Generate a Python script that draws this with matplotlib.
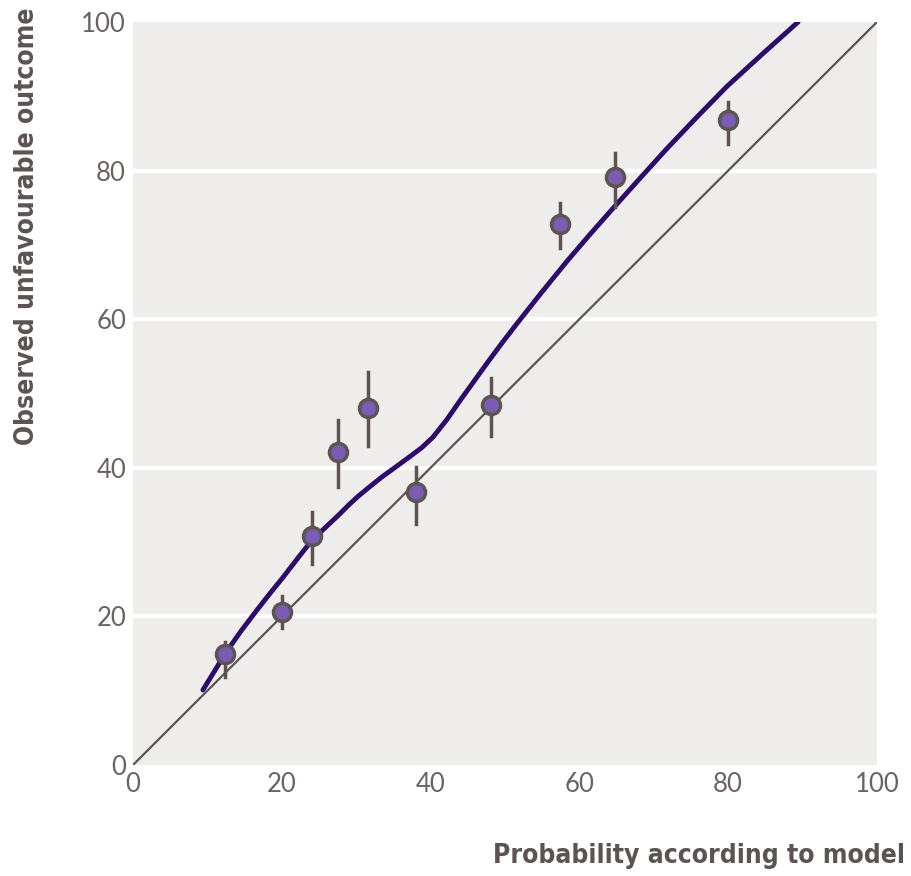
import matplotlib.pyplot as plt

# observed groups (x = predicted %, y = observed %, with CI)
obs_x = [12.4, 20.0, 24.1, 27.6, 31.6, 38.0, 48.1, 57.4, 64.8, 80.0]
obs_y = [14.9, 20.6, 30.8, 42.1, 48.0, 36.7, 48.5, 72.8, 79.1, 86.8]
ci_lo = [11.8, 18.4, 27.0, 37.4, 42.9, 32.4, 44.3, 69.6, 75.1, 83.6]
ci_hi = [16.5, 22.7, 34.0, 46.4, 52.9, 40.1, 52.1, 75.6, 82.4, 89.2]

# smoothed calibration curve
curve_x = [9.4, 11.0, 12.4, 14.5, 16.7, 18.5, 20.2, 22.2, 24.1, 26.0, 27.6, 29.0, 30.3,
           32.0, 33.5, 35.3, 37.2, 38.8, 40.3, 42.2, 44.0, 45.8, 47.6, 49.6, 51.6,
           55.0, 58.5, 61.5, 64.5, 68.0, 71.8, 75.8, 79.8, 84.5, 89.4]
curve_y = [10.1, 12.7, 15.0, 18.0, 20.9, 23.2, 25.3, 27.9, 30.3, 32.1, 33.6, 35.0, 36.2,
           37.6, 38.8, 40.1, 41.5, 42.7, 44.1, 46.5, 49.1, 51.6, 54.1, 56.8, 59.4,
           63.7, 68.0, 71.5, 74.9, 78.8, 83.0, 87.2, 91.3, 95.6, 100]

ticks = [0, 20, 40, 60, 80, 100]

bg = '#efedeb'
grey = '#5b5451'
txt = '#6b6361'

fig = plt.figure(figsize=(9.12, 8.76), dpi=100)
ax = fig.add_axes([0.1458, 0.1267, 0.8158, 0.8482])
ax.set_facecolor(bg)

for t in ticks[1:-1]:
    ax.axhline(t, color='white', lw=3, zorder=1)

ax.plot([0, 100], [0, 100], color=grey, lw=1.6, zorder=2)
ax.plot(curve_x, curve_y, color='#2c0b6b', lw=3.5, zorder=3,
        solid_capstyle='round', solid_joinstyle='round')

for x, y, lo, hi in zip(obs_x, obs_y, ci_lo, ci_hi):
    ax.plot([x, x], [lo, hi], color=grey, lw=2.5, zorder=4)
ax.plot(obs_x, obs_y, 'o', ms=13, mfc='#7b5cb5', mec=grey, mew=2.5, zorder=5)

ax.set_xlim(0, 100)
ax.set_ylim(0, 100)
ax.set_xticks(ticks)
ax.set_yticks(ticks)
for s in ax.spines.values():
    s.set_visible(False)
ax.tick_params(length=0, labelsize=18.5, labelcolor=txt, pad=5)
for lab in ax.get_xticklabels() + ax.get_yticklabels():
    lab.set_family('Lato')

fig.text(0.992, 0.008, 'Probability according to model', ha='right', va='bottom',
         fontsize=19, fontweight='bold', color=grey, family='DejaVu Sans',
         fontstretch='condensed')
fig.text(0.03, 0.992, 'Observed unfavourable outcome', ha='center', va='top', rotation=90,
         fontsize=19, fontweight='bold', color=grey, family='DejaVu Sans',
         fontstretch='condensed')

fig.savefig('out.png', dpi=100)
